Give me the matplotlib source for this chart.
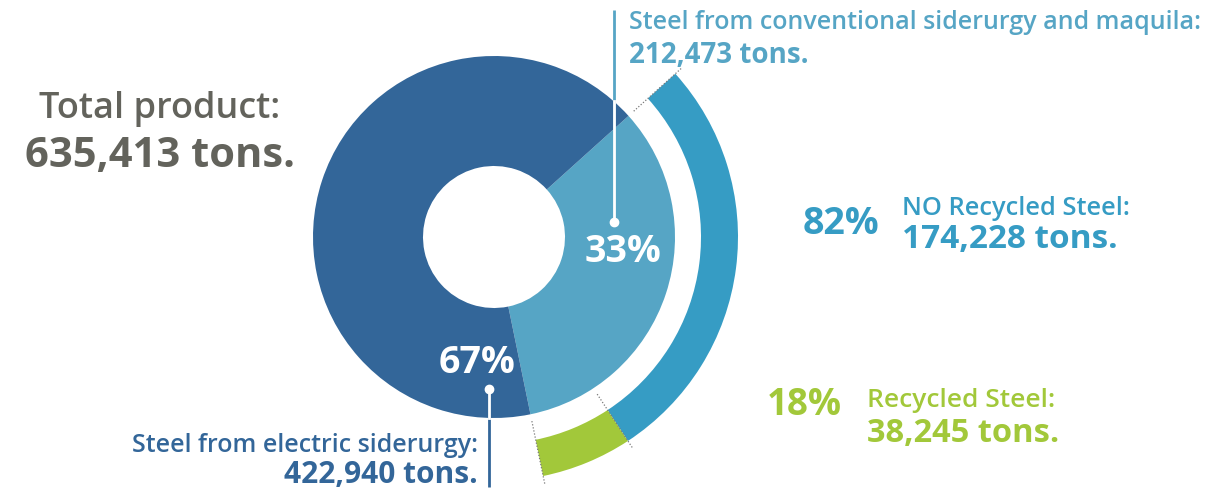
import numpy as np
import matplotlib.pyplot as plt

# Product totals (tons)
total_tons = 635413
product_tons = [212473, 422940]          # conventional + maquila, electric
product_pct = ['33%', '67%']
# Breakdown of conventional siderurgy (tons)
conv_tons = [174228, 38245]              # NO recycled, recycled
conv_pct = ['82%', '18%']

W, H = 1208, 494
DARK = '#336699'
LIGHT = '#56A5C5'
BLUE = '#369CC4'
GREEN = '#A2C83A'
GREY = '#63635C'
FONT = ['Open Sans', 'DejaVu Sans']


def py(y):
    # picture row -> data y
    return H - y


cx, cy = 494, py(237)
r_pie, r_hole = 181, 71
r_out, r_in = 244, 207
start = 42

fig = plt.figure(figsize=(W / 100, H / 100), dpi=100)
ax = fig.add_axes([0, 0, 1, 1])

# main donut
ax.pie(product_tons, radius=r_pie, center=(cx, cy), startangle=start,
       counterclock=False, colors=[LIGHT, DARK],
       wedgeprops=dict(width=r_pie - r_hole, edgecolor='none', linewidth=0))

# outer arc: breakdown of the conventional slice, rest left blank
ring_vals = conv_tons + [product_tons[1]]
ax.pie(ring_vals, radius=r_out, center=(cx, cy), startangle=start,
       counterclock=False, colors=[BLUE, GREEN, 'none'],
       wedgeprops=dict(width=r_out - r_in, edgecolor='none', linewidth=0))

# dotted guides on the arc boundaries
bounds = start - 360 * np.cumsum([0] + conv_tons) / total_tons
for a in np.deg2rad(bounds):
    r = np.array([188, 253])
    ax.plot(cx + r * np.cos(a), cy + r * np.sin(a), ls=(0, (1, 1.5)),
            color='#7a7a7a', lw=0.9)

ax.set_xlim(0, W)
ax.set_ylim(0, H)
ax.set_aspect('equal')
ax.axis('off')

# leader lines
x1 = 614
ax.plot([x1, x1], [py(10), py(222)], color=LIGHT, lw=2, solid_capstyle='butt')
y_edge = cy + np.sqrt(r_pie ** 2 - (x1 - cx) ** 2)
ax.plot([x1, x1], [y_edge, py(222)], color='white', lw=2)
ax.plot(x1, py(222), 'o', color='white', ms=6)

x2 = 489
ax.plot([x2, x2], [py(389), py(487)], color=DARK, lw=2, solid_capstyle='butt')
y_edge = cy - np.sqrt(r_pie ** 2 - (x2 - cx) ** 2)
ax.plot([x2, x2], [py(389), y_edge], color='white', lw=2)
ax.plot(x2, py(389), 'o', color='white', ms=6)

# texts
ax.text(160, py(118), 'Total product:', color=GREY, fontsize=26, family=FONT,
        weight='semibold', ha='center', va='baseline')
ax.text(160, py(167), f'{total_tons:,} tons.', color=GREY, fontsize=30,
        family=FONT, weight='bold', ha='center', va='baseline')

ax.text(623, py(262), product_pct[0], color='white', fontsize=27, family=FONT,
        weight='bold', ha='center', va='baseline')
ax.text(477, py(373), product_pct[1], color='white', fontsize=27, family=FONT,
        weight='bold', ha='center', va='baseline')

ax.text(629, py(29), 'Steel from conventional siderurgy and maquila:',
        color=LIGHT, fontsize=18, family=FONT, weight='semibold', va='baseline')
ax.text(629, py(63), f'{product_tons[0]:,} tons.', color=LIGHT, fontsize=20,
        family=FONT, weight='bold', va='baseline')

ax.text(478, py(452), 'Steel from electric siderurgy:', color=DARK,
        fontsize=18, family=FONT, weight='semibold', ha='right', va='baseline')
ax.text(478, py(483), f'{product_tons[1]:,} tons.', color=DARK, fontsize=21.5,
        family=FONT, weight='bold', ha='right', va='baseline')

ax.text(803, py(234), conv_pct[0], color=BLUE, fontsize=27, family=FONT,
        weight='bold', va='baseline')
ax.text(902, py(215), 'NO Recycled Steel:', color=BLUE, fontsize=18.4,
        family=FONT, weight='semibold', va='baseline')
ax.text(902, py(248), f'{conv_tons[0]:,} tons.', color=BLUE, fontsize=24,
        family=FONT, weight='bold', va='baseline')

ax.text(767, py(415), conv_pct[1], color=GREEN, fontsize=26.5, family=FONT,
        weight='bold', va='baseline')
ax.text(867, py(407), 'Recycled Steel:', color=GREEN, fontsize=19,
        family=FONT, weight='semibold', va='baseline')
ax.text(867, py(442), f'{conv_tons[1]:,} tons.', color=GREEN, fontsize=23.5,
        family=FONT, weight='bold', va='baseline')

fig.savefig('out.png', dpi=100)
